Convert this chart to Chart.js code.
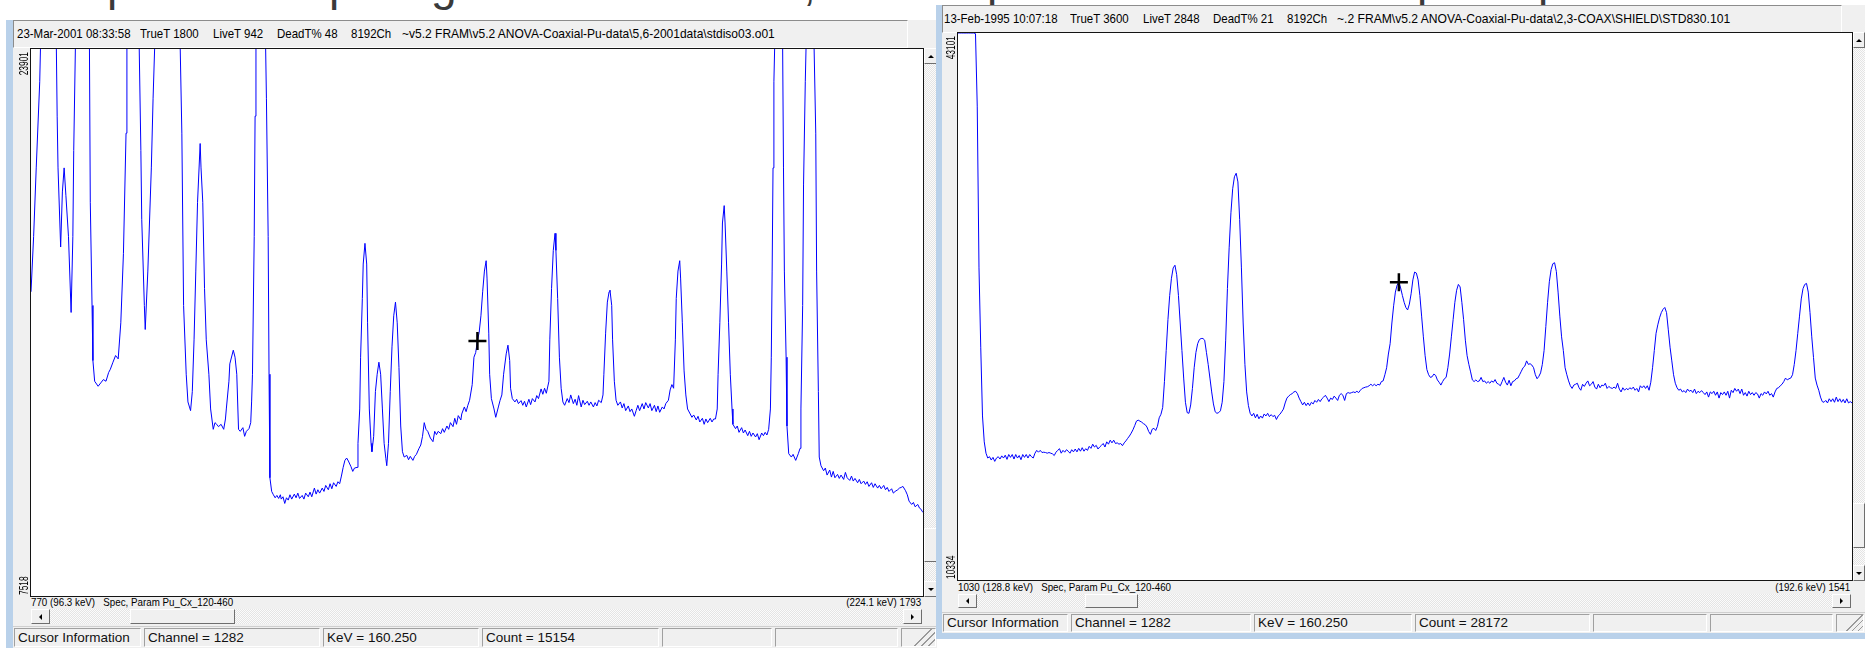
<!DOCTYPE html>
<html>
<head>
<meta charset="utf-8">
<title>FRAM spectra</title>
<script src="https://cdn.jsdelivr.net/npm/chart.js@4.4.1/dist/chart.umd.min.js"></script>
<style>
  html, body { margin: 0; padding: 0; }
  body { width: 1865px; height: 648px; position: relative; overflow: hidden; background: #fff;
         font-family: "Liberation Sans", Arial, sans-serif; }
  .box { position: absolute; box-sizing: border-box; }
  .slide { position: absolute; top: -39px; font-size: 46px; line-height: 46px; color: #3a3a3a; }
  .frame { background: #b9d1ea; }
  .client { background: #f0f0f0; }
  .header { border: 1px solid; border-color: #8c8c8c #fff #fff #8c8c8c; background: #f0f0f0; overflow: hidden; }
  .narrow { position: absolute; white-space: pre; transform-origin: left center; color: #000; }
  .header .narrow { top: 50%; font-size: 13.5px; line-height: 16px; margin-top: -8px; }
  .lbl { font-size: 11.5px; line-height: 11px; }
  .lbl.r { transform-origin: right center; }
  .track { background: repeating-conic-gradient(#e4e4e4 0 25%, #fbfbfb 0 50%) 0 0 / 2px 2px; }
  .btn { background: #f0f0f0; border: 1px solid; border-color: #fff #6e6e6e #6e6e6e #fff; }
  .tri { position: absolute; width: 0; height: 0; border: 3px solid transparent; }
  .statusbar { background: #f0f0f0; border-top: 1px solid #cfcfcf; }
  .cell { border: 1px solid; border-color: #a0a0a0 #fff #fff #a0a0a0; font-size: 13.5px; color: #111;
          white-space: pre; padding-left: 3px; overflow: hidden; }
  .grip { background: linear-gradient(135deg, transparent 58%, #9a9a9a 58%, #9a9a9a 62%, transparent 62%,
          transparent 72%, #9a9a9a 72%, #9a9a9a 76%, transparent 76%, transparent 86%, #9a9a9a 86%, #9a9a9a 90%, transparent 90%); }
  canvas { position: absolute; }
</style>
</head>
<body>
<span class="slide" style="left:107px">p</span>
<span class="slide" style="left:329px">p</span>
<span class="slide" style="left:431px">g</span>
<span class="slide" style="left:803px">,</span>
<span class="slide" style="left:987px">p</span>
<span class="slide" style="left:1417px">p</span>
<span class="slide" style="left:1538px">p</span>
<script>
// ---------- stdiso03.o01 (left window) ----------
const leftXRange = [770, 1793];
const leftKevRange = ['96.3', '224.1'];
const leftYRange = [7518, 23901];
const leftCursor = { channel: 1282, kev: '160.250', count: 15154 };
const leftHeader = ['23-Mar-2001 08:33:58', 'TrueT 1800', 'LiveT 942', 'DeadT% 48', '8192Ch',
                    '~v5.2 FRAM\\v5.2 ANOVA-Coaxial-Pu-data\\5,6-2001data\\stdiso03.o01'];

const leftChannels = [
  770, 773, 776, 780, 781, 790, 799, 800, 801, 804, 806, 808, 810, 813, 816, 818, 819, 821, 834, 837,
  838, 840, 841, 843, 847, 850, 853, 856, 859, 861, 864, 867, 870, 873, 876, 879, 880, 887, 894, 896,
  897, 900, 901, 904, 908, 910, 912, 926, 941, 943, 945, 948, 950, 953, 955, 957, 959, 961, 964, 965,
  967, 969, 971, 974, 976, 979, 981, 983, 985, 988, 991, 993, 994, 997, 998, 1002, 1004, 1006, 1008, 1010,
  1013, 1015, 1017, 1020, 1022, 1023, 1024, 1026, 1027, 1028, 1033, 1039, 1040, 1042, 1043, 1044, 1046, 1048, 1050, 1052,
  1054, 1056, 1057, 1059, 1061, 1063, 1065, 1067, 1069, 1072, 1074, 1076, 1078, 1081, 1083, 1085, 1088, 1090, 1092, 1095,
  1097, 1099, 1101, 1104, 1106, 1108, 1111, 1113, 1115, 1117, 1120, 1122, 1124, 1126, 1128, 1130, 1132, 1134, 1137, 1139,
  1141, 1144, 1145, 1147, 1148, 1150, 1151, 1153, 1155, 1156, 1158, 1160, 1161, 1163, 1165, 1167, 1169, 1171, 1173, 1175,
  1177, 1178, 1180, 1182, 1184, 1186, 1188, 1190, 1192, 1194, 1196, 1198, 1201, 1203, 1205, 1208, 1210, 1212, 1215, 1217,
  1219, 1221, 1223, 1225, 1228, 1231, 1233, 1235, 1237, 1240, 1242, 1244, 1247, 1249, 1251, 1254, 1256, 1258, 1260, 1263,
  1264, 1267, 1269, 1271, 1273, 1276, 1278, 1280, 1282, 1284, 1286, 1288, 1290, 1292, 1293, 1295, 1296, 1298, 1301, 1303,
  1306, 1308, 1310, 1312, 1315, 1317, 1319, 1320, 1322, 1325, 1327, 1329, 1332, 1334, 1336, 1338, 1341, 1343, 1345, 1348,
  1350, 1352, 1355, 1357, 1359, 1361, 1364, 1365, 1367, 1369, 1371, 1372, 1374, 1376, 1378, 1380, 1382, 1385, 1387, 1389,
  1392, 1394, 1396, 1398, 1401, 1403, 1405, 1408, 1410, 1412, 1415, 1417, 1419, 1421, 1424, 1426, 1427, 1429, 1431, 1433,
  1434, 1436, 1437, 1439, 1441, 1443, 1446, 1448, 1450, 1452, 1455, 1457, 1459, 1462, 1464, 1466, 1468, 1471, 1473, 1475,
  1478, 1480, 1482, 1485, 1487, 1489, 1491, 1494, 1496, 1498, 1501, 1503, 1505, 1507, 1509, 1510, 1512, 1514, 1515, 1517,
  1519, 1521, 1523, 1526, 1528, 1530, 1533, 1535, 1537, 1540, 1542, 1544, 1546, 1549, 1551, 1553, 1555, 1557, 1558, 1560,
  1562, 1563, 1565, 1566, 1568, 1570, 1572, 1574, 1575, 1578, 1580, 1582, 1585, 1587, 1589, 1592, 1594, 1596, 1598, 1601,
  1603, 1605, 1608, 1610, 1612, 1614, 1616, 1618, 1619, 1620, 1621, 1622, 1623, 1627, 1632, 1633, 1634, 1636, 1637, 1639,
  1642, 1644, 1647, 1650, 1652, 1653, 1655, 1656, 1658, 1659, 1663, 1668, 1670, 1671, 1673, 1674, 1676, 1679, 1681, 1683,
  1686, 1688, 1690, 1692, 1695, 1697, 1699, 1702, 1704, 1706, 1709, 1711, 1713, 1715, 1718, 1720, 1722, 1725, 1727, 1729,
  1731, 1734, 1736, 1738, 1741, 1743, 1745, 1748, 1750, 1752, 1754, 1757, 1759, 1761, 1764, 1766, 1768, 1770, 1773, 1775,
  1777, 1780, 1782, 1784, 1787, 1789, 1791, 1792, 1793
];
const leftCounts = [
  16630, 18280, 20340, 22920, 24090, 52000, 24090, 21890, 20340, 17970, 19620, 20340, 19520, 18280, 16010, 18280, 20860, 24090, 70000, 24090,
  19310, 16220, 14570, 13950, 13800, 13900, 14000, 13950, 14210, 14310, 14520, 14720, 14620, 15700, 17770, 21380, 24090, 45000, 24090, 20860,
  18800, 16220, 15500, 17250, 20340, 22410, 24090, 90000, 24090, 21380, 16220, 14160, 13330, 13070, 13640, 15190, 17250, 19310, 21070, 20340,
  19310, 16730, 15190, 14160, 13120, 12510, 12710, 12660, 12590, 12660, 12510, 12820, 13120, 13950, 14470, 14880, 14670, 14160, 12510, 12450,
  12560, 12300, 12450, 12530, 12710, 13330, 14160, 18280, 21890, 24090, 120000, 24090, 22410, 18280, 14160, 11060, 10650, 10550, 10460, 10530,
  10440, 10550, 10420, 10490, 10290, 10460, 10390, 10550, 10420, 10570, 10460, 10600, 10440, 10530, 10420, 10600, 10490, 10630, 10490, 10750,
  10570, 10700, 10600, 10750, 10650, 10830, 10700, 10880, 10730, 10910, 10800, 10940, 10880, 11110, 11370, 11580, 11650, 11560, 11390, 11250,
  11350, 11370, 12090, 13120, 14670, 16430, 17460, 18080, 17460, 15700, 13120, 12090, 11840, 12300, 13640, 14160, 14520, 14160, 13120, 12090,
  11630, 11420, 12090, 13640, 14980, 15910, 16320, 15700, 14360, 12610, 11840, 11680, 11730, 11600, 11700, 11580, 11700, 11760, 11940, 12040,
  12300, 12710, 12510, 12450, 12250, 12140, 12450, 12350, 12450, 12380, 12530, 12420, 12610, 12510, 12710, 12590, 12840, 12660, 12920, 12790,
  12970, 13180, 13040, 13230, 13380, 13850, 14670, 14810, 15154, 15420, 15910, 16630, 17250, 17560, 17040, 15390, 14160, 13430, 13120, 12870,
  13180, 13380, 13540, 14160, 14770, 15030, 14570, 13740, 13430, 13330, 13410, 13280, 13370, 13230, 13350, 13180, 13410, 13250, 13430, 13330,
  13520, 13430, 13720, 13560, 13740, 13590, 13950, 15190, 16730, 17870, 18380, 17870, 16430, 14670, 13740, 13330, 13230, 13430, 13310, 13540,
  13280, 13410, 13230, 13520, 13180, 13380, 13250, 13350, 13230, 13330, 13180, 13310, 13210, 13380, 13310, 13540, 14160, 15390, 16320, 16630,
  16680, 16220, 15190, 13950, 13380, 13230, 13330, 13150, 13280, 13070, 13210, 13040, 13120, 12900, 13070, 13230, 13070, 13280, 13120, 13310,
  13150, 13280, 13070, 13230, 13040, 13210, 13020, 13180, 13120, 13280, 13380, 13690, 13850, 13740, 15190, 16430, 17250, 17560, 17040, 15700,
  14260, 13540, 13120, 12970, 12870, 12940, 12790, 12900, 12730, 12840, 12660, 12820, 12710, 12840, 12730, 12820, 12820, 13120, 14160, 15700,
  17460, 18690, 19210, 18690, 17250, 15700, 14160, 13120, 12660, 12530, 12610, 12420, 12560, 12400, 12490, 12320, 12450, 12300, 12400, 12280,
  12380, 12200, 12400, 12320, 12420, 12340, 12510, 13120, 14670, 17250, 20340, 22920, 24090, 150000, 24090, 20340, 17250, 14670, 12610, 11780,
  11680, 11760, 11580, 11780, 11940, 13120, 16220, 19830, 22920, 24090, 100000, 24090, 21380, 17250, 13640, 11680, 11420, 11270, 11350, 11140,
  11290, 11080, 11250, 11060, 11160, 11040, 11140, 11010, 11220, 11060, 10980, 11110, 10960, 11040, 10910, 11010, 10880, 10960, 10860, 10940,
  10800, 10910, 10770, 10880, 10750, 10830, 10730, 10830, 10700, 10770, 10650, 10730, 10600, 10650, 10700, 10750, 10770, 10800, 10670, 10550,
  10360, 10260, 10320, 10190, 10260, 10150, 10110, 10050, 10030
];

// ---------- STD830.101 (right window), one count per channel ----------
const rightXRange = [1030, 1541];
const rightKevRange = ['128.8', '192.6'];
const rightYRange = [10334, 43101];
const rightCursor = { channel: 1282, kev: '160.250', count: 28172 };
const rightHeader = ['13-Feb-1995 10:07:18', 'TrueT 3600', 'LiveT 2848', 'DeadT% 21', '8192Ch',
                     '~.2 FRAM\\v5.2 ANOVA-Coaxial-Pu-data\\2,3-COAX\\SHIELD\\STD830.101'];

const rightFirstChannel = 1030;
const rightCounts = [
  43101, 43101, 43101, 43101, 43101, 43101, 43101, 43101, 43101, 43101,
  43060, 38720, 29030, 24280, 20160, 18610, 17930, 17640, 17720, 17520,
  17680, 17440, 17640, 17720, 17580, 17770, 17640, 17810, 17560, 17850,
  17680, 17850, 17580, 17850, 17640, 17790, 17540, 17850, 17680, 17850,
  17640, 17850, 17720, 17640, 17930, 18100, 17990, 18100, 17970, 17990,
  17970, 17930, 17970, 17930, 17890, 17790, 17990, 18100, 18200, 17930,
  18100, 17990, 18140, 18050, 17930, 18140, 18010, 18180, 18010, 18220,
  18050, 18260, 18050, 18200, 18100, 18340, 18220, 18470, 18300, 18400,
  18180, 18300, 18400, 18510, 18300, 18610, 18470, 18710, 18550, 18710,
  18510, 18550, 18470, 18510, 18380, 18550, 18670, 18820, 18960, 19130,
  19330, 19580, 19850, 19910, 19850, 19790, 19700, 19640, 19500, 19230,
  19060, 19370, 19420, 19290, 19540, 20050, 20260, 20670, 22220, 24080,
  25930, 27380, 28410, 29030, 29190, 28620, 27380, 25730, 24080, 22430,
  20980, 20360, 20320, 20820, 21810, 23050, 23970, 24490, 24740, 24800,
  24800, 24700, 23970, 23250, 22430, 21600, 20880, 20410, 20320, 20360,
  20470, 20980, 22220, 24700, 27790, 30270, 32330, 33770, 34490, 34700,
  34180, 31920, 29030, 25730, 23250, 21600, 20780, 20320, 20160, 20320,
  20050, 20260, 19990, 20160, 20030, 20280, 20160, 20320, 20120, 20240,
  20120, 20200, 19950, 20160, 20260, 20410, 20570, 20940, 21230, 21350,
  21440, 21500, 21600, 21640, 21500, 21230, 21020, 20820, 20980, 20780,
  20940, 20780, 20980, 20880, 21090, 20980, 21150, 21020, 21190, 21290,
  21400, 21230, 21020, 21230, 21150, 21350, 21230, 21090, 21400, 21500,
  21400, 21090, 21500, 21560, 21520, 21560, 21600, 21560, 21640, 21560,
  21700, 21810, 21850, 21890, 21910, 21970, 22060, 21970, 22060, 21970,
  22060, 22010, 22220, 22260, 22630, 23050, 23870, 24490, 25730, 26760,
  27580, 28000, 28172, 27830, 27380, 26970, 26660, 26510, 26860, 27480,
  28310, 28780, 28720, 28310, 27380, 26140, 24900, 23770, 22940, 22630,
  22470, 22510, 22670, 22590, 22320, 22180, 22010, 22220, 22390, 22470,
  23050, 23870, 24900, 25930, 26970, 27690, 28040, 27890, 26970, 25930,
  24700, 23770, 23250, 22800, 22320, 22220, 22320, 22220, 22260, 22470,
  22220, 22260, 22120, 22220, 22120, 22260, 22180, 22340, 22120, 22060,
  21970, 22220, 22470, 22180, 22010, 22300, 21970, 22220, 22260, 22390,
  22430, 22630, 22840, 23050, 23150, 23460, 23250, 23290, 23210, 23050,
  22630, 22390, 22530, 22740, 23250, 24080, 25520, 26970, 28200, 28920,
  29280, 29340, 28820, 27580, 26140, 24900, 24080, 23050, 22630, 22260,
  21970, 21810, 22010, 22060, 22120, 21850, 21700, 22060, 21930, 22120,
  22260, 21970, 22060, 22220, 21890, 21770, 22060, 21850, 22010, 21970,
  22120, 21810, 21930, 21850, 21810, 21890, 21810, 22120, 21770, 21600,
  21850, 21700, 21810, 21730, 21850, 21770, 21890, 21700, 21810, 21600,
  21970, 21850, 21970, 21810, 21970, 21700, 22180, 23050, 24080, 25110,
  25620, 26040, 26350, 26550, 26660, 26350, 25320, 24280, 23460, 22630,
  22120, 21850, 21700, 21770, 21600, 21680, 21560, 21770, 21640, 21700,
  21560, 21770, 21500, 21640, 21560, 21680, 21560, 21440, 21600, 21290,
  21600, 21500, 21640, 21400, 21600, 21230, 21560, 21440, 21600, 21400,
  21640, 21230, 21700, 21560, 21810, 21640, 21770, 21500, 21770, 21400,
  21560, 21350, 21640, 21440, 21560, 21400, 21560, 21480, 21230, 21500,
  21400, 21600, 21480, 21640, 21400, 21500, 21290, 21600, 21810, 21850,
  21970, 22060, 22220, 22430, 22320, 22390, 22430, 22630, 23250, 24080,
  25110, 26140, 27170, 27790, 28040, 28100, 27580, 26350, 24900, 23660,
  22430, 22010, 21700, 21290, 21020, 20980, 21090, 20940, 21190, 21020,
  21190, 20980, 21290, 21020, 21190, 20980, 21150, 20940, 21190, 20940,
  21020, 20940
];

const specParam = 'Spec, Param Pu_Cx_120-460';

// ---------- window chrome ----------
function box(cls, x, y, w, h, parent) {
  const d = document.createElement('div');
  d.className = 'box ' + cls;
  d.style.left = x + 'px'; d.style.top = y + 'px';
  d.style.width = w + 'px'; d.style.height = h + 'px';
  (parent || document.body).appendChild(d);
  return d;
}

function arrow(x, y, w, h, dir) {
  const b = box('btn', x, y, w, h);
  const t = document.createElement('div');
  t.className = 'tri';
  const side = { up: 'Bottom', down: 'Top', left: 'Right', right: 'Left' }[dir];
  t.style['border' + side + 'Color'] = '#000';
  t.style.left = ((w - 2) / 2 - 3 + (dir === 'left' ? -1.5 : dir === 'right' ? 1.5 : 0)) + 'px';
  t.style.top = ((h - 2) / 2 - 3 + (dir === 'up' ? -1.5 : dir === 'down' ? 1.5 : 0)) + 'px';
  b.appendChild(t);
}

function narrowText(text, x, y, cls, alignRight) {
  const s = document.createElement('span');
  s.className = 'narrow ' + cls + (alignRight ? ' r' : '');
  s.textContent = text;
  s.style.top = y + 'px';
  if (alignRight) s.style.right = (1865 - x) + 'px';
  else s.style.left = x + 'px';
  s.style.transform = 'scaleX(0.85)';
  document.body.appendChild(s);
}

function buildWindow(w) {
  w.frames.forEach(f => box('frame', ...f));
  box('client', ...w.client);

  // file header: fields at fixed stops, the path squeezed to its end stop
  const hd = box('header', ...w.header);
  w.headerText.forEach((t, i) => {
    const s = document.createElement('span');
    s.className = 'narrow';
    s.textContent = t;
    s.style.left = (w.headerStops[i] - w.header[0] - 1) + 'px';
    hd.appendChild(s);
    const last = i === w.headerText.length - 1;
    const k = last ? (w.headerEnd - w.headerStops[i]) / s.offsetWidth : 0.85;
    s.style.transform = `scaleX(${k.toFixed(3)})`;
  });

  // vertical scrollbar
  const [vx, vy, vw, vh] = w.vbar;
  box('track', vx, vy, vw, vh);
  arrow(vx, vy, vw, 16, 'up');
  arrow(vx, vy + vh - 16, vw, 16, 'down');
  box('btn', vx, vy + w.vthumb[0], vw, w.vthumb[1]);

  // channel / energy extents under the plot
  narrowText(`${w.xRange[0]} (${w.kev[0]} keV)   ${specParam}`, w.labelX[0], w.labelY, 'lbl', false);
  narrowText(`(${w.kev[1]} keV) ${w.xRange[1]}`, w.labelX[1], w.labelY, 'lbl', true);

  // horizontal scrollbar
  const [hx, hy, hw, hh] = w.hbar;
  box('track', hx, hy, hw, hh);
  arrow(hx, hy, 19, hh, 'left');
  arrow(hx + hw - 19, hy, 19, hh, 'right');
  box('btn', hx + w.hthumb[0], hy, w.hthumb[1], hh);

  // status bar
  const [sy, sh] = w.status;
  const c = w.cells;
  box('statusbar', c[0], sy, c[c.length - 1] - c[0], sh);
  const texts = ['Cursor Information', `Channel = ${w.cursor.channel}`, `KeV = ${w.cursor.kev}`,
                 `Count = ${w.cursor.count}`, '', '', ''];
  for (let i = 0; i < c.length - 1; i++) {
    const x0 = c[i] + (i ? 2 : 1);
    const cell = box('cell' + (i === c.length - 2 ? ' grip' : ''), x0, sy + 2, c[i + 1] - x0 - 1, sh - 3);
    cell.style.lineHeight = (sh - 5) + 'px';
    cell.textContent = texts[i];
  }

  const cv = document.createElement('canvas');
  const [cx, cy, cw, ch] = w.canvas;
  cv.width = cw; cv.height = ch;
  cv.style.left = cx + 'px'; cv.style.top = cy + 'px';
  cv.style.width = cw + 'px'; cv.style.height = ch + 'px';
  document.body.appendChild(cv);
  return cv;
}

// white plot field, dark border and the rotated min/max counts in the gutter
const panelPlugin = {
  id: 'panel',
  beforeDraw(chart) {
    const { ctx, chartArea: a } = chart;
    ctx.save();
    ctx.fillStyle = '#fff';
    ctx.fillRect(a.left, a.top, a.right - a.left, a.bottom - a.top);
    ctx.restore();
  },
  afterDraw(chart) {
    const { ctx, chartArea: a, scales: { y } } = chart;
    ctx.save();
    ctx.strokeStyle = '#141414';
    ctx.lineWidth = 1;
    ctx.strokeRect(a.left - 0.5, a.top - 0.5, a.right - a.left + 1, a.bottom - a.top + 1);
    ctx.fillStyle = '#000';
    ctx.font = '12px "Liberation Sans", Arial, sans-serif';
    ctx.textBaseline = 'middle';
    const gx = a.left - 6;
    [[y.max, a.top + 3, 'right'], [y.min, a.bottom - 1, 'left']].forEach(([v, py, align]) => {
      ctx.save();
      ctx.translate(gx, py);
      ctx.rotate(-Math.PI / 2);
      ctx.scale(0.7, 1);
      ctx.textAlign = align;
      ctx.fillText(String(v), 0, 0);
      ctx.restore();
    });
    ctx.restore();
  }
};

function spectrumChart(canvas, points, cursor, xRange, yRange, padLeft) {
  return new Chart(canvas.getContext('2d'), {
    type: 'scatter',
    data: {
      datasets: [
        {
          // cursor cross-hair
          data: [{ x: cursor.channel, y: cursor.count }],
          pointStyle: 'cross',
          pointRadius: 9,
          borderWidth: 2.5,
          borderColor: '#000',
          backgroundColor: '#000'
        },
        {
          data: points,
          showLine: true,
          borderColor: '#0000ff',
          borderWidth: 1,
          pointRadius: 0,
          tension: 0
        }
      ]
    },
    options: {
      responsive: false,
      animation: false,
      events: [],
      layout: { autoPadding: false, padding: { left: padLeft, top: 1, right: 1, bottom: 1 } },
      plugins: { legend: { display: false }, tooltip: { enabled: false } },
      scales: {
        x: { type: 'linear', min: xRange[0], max: xRange[1], display: false },
        y: { min: yRange[0], max: yRange[1], display: false }
      }
    },
    plugins: [panelPlugin]
  });
}

const leftCanvas = buildWindow({
  frames: [[6, 20, 7, 628]],
  client: [13, 20, 924, 628],
  header: [13, 20, 895, 28],
  headerText: leftHeader, headerStops: [17, 140, 213, 277, 351, 402], headerEnd: 775,
  canvas: [13, 48, 911, 549],
  vbar: [924, 48, 13, 549], vthumb: [480, 34],
  labelX: [31, 921], labelY: 597,
  hbar: [31, 609, 891, 15], hthumb: [99, 105],
  status: [626, 22], cells: [13, 142, 321, 480, 660, 773, 899, 937],
  xRange: leftXRange, kev: leftKevRange, cursor: leftCursor
});

const rightCanvas = buildWindow({
  frames: [[936, 5, 6, 634], [936, 633, 929, 6]],
  client: [942, 5, 923, 628],
  header: [942, 5, 900, 28],
  headerText: rightHeader, headerStops: [944, 1070, 1143, 1213, 1287, 1337], headerEnd: 1730,
  canvas: [942, 32, 911, 549],
  vbar: [1853, 32, 12, 549], vthumb: [471, 45],
  labelX: [958, 1850], labelY: 582,
  hbar: [958, 594, 893, 14], hthumb: [127, 53],
  status: [612, 21], cells: [942, 1069, 1252, 1413, 1591, 1708, 1834, 1865],
  xRange: rightXRange, kev: rightKevRange, cursor: rightCursor
});

const leftPoints = leftChannels.map((c, i) => ({ x: c, y: leftCounts[i] }));
const rightPoints = rightCounts.map((v, i) => ({ x: rightFirstChannel + i, y: v }));

spectrumChart(leftCanvas, leftPoints, leftCursor, leftXRange, leftYRange, 18);
spectrumChart(rightCanvas, rightPoints, rightCursor, rightXRange, rightYRange, 16);
</script>
</body>
</html>
